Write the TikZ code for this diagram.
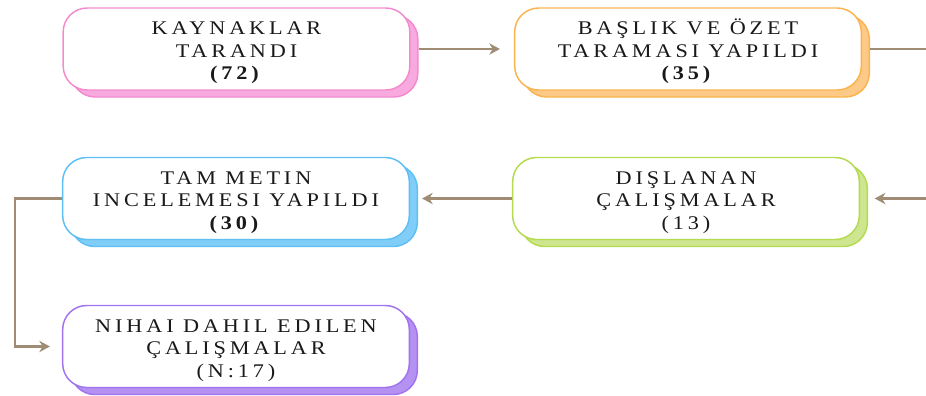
\documentclass[tikz,border=0pt]{standalone}
\usepackage{fontspec}
\newfontfamily\boxfont{Liberation Serif}[LetterSpace=20,FakeStretch=1.15]
\usepackage{tikz}
\usetikzlibrary{arrows.meta, shadows}

\definecolor{pinkline}{RGB}{244,138,205}
\definecolor{pinkfill}{RGB}{248,169,222}
\definecolor{orangeline}{RGB}{249,180,78}
\definecolor{orangefill}{RGB}{252,201,135}
\definecolor{blueline}{RGB}{94,191,245}
\definecolor{bluefill}{RGB}{128,205,247}
\definecolor{greenline}{RGB}{180,218,80}
\definecolor{greenfill}{RGB}{205,230,143}
\definecolor{purpleline}{RGB}{161,115,238}
\definecolor{purplefill}{RGB}{181,145,241}
\definecolor{linkcol}{RGB}{160,139,117}
\definecolor{textcol}{RGB}{25,25,25}
\newcommand\toplift{\rule{0pt}{15.5pt}}

\begin{document}
\begin{tikzpicture}[x=0.75pt,y=0.75pt,yscale=-1,xscale=1,
  stagebox/.style 2 args={draw=#1, fill=white, line width=1.1pt, rounded corners=18pt,
    minimum width=260pt, minimum height=61.5pt, align=center, inner sep=2pt,
    text=textcol, font=\boxfont\fontsize{14.5}{17}\selectfont,
    general shadow={shadow xshift=6pt, shadow yshift=-5.25pt, fill=#2, draw=#1, line width=1.1pt}},
  link/.style={draw=linkcol, line width=2pt, -{Stealth[length=8pt,width=8.5pt]}}]
%set diagram size to the picture
\useasboundingbox (0,0) rectangle (926,396);
\clip (0,0) rectangle (926,396);

% Boxes
\node (kaynak) [stagebox={pinkline}{pinkfill}] at (236.5,49) {\toplift KAYNAKLAR\\TARANDI\\\textbf{(72)}};
\node (baslik) [stagebox={orangeline}{orangefill}] at (688,49) {\toplift BAŞLIK VE ÖZET\\TARAMASI YAPILDI\\\textbf{(35)}};
\node (tammetin) [stagebox={blueline}{bluefill}] at (236,198.5) {\toplift TAM METIN\\INCELEMESI YAPILDI\\\textbf{(30)}};
\node (dislanan) [stagebox={greenline}{greenfill}] at (686,198.5) {\toplift DIŞLANAN\\ÇALIŞMALAR\\(13)};
\node (nihai) [stagebox={purpleline}{purplefill}] at (236,346.5) {\toplift NIHAI DAHIL EDILEN\\ÇALIŞMALAR\\(N:17)};

%Connectors
\coordinate (turn) at (945,0);
\coordinate (bend) at (15,0);
\draw [link, shorten <=6pt, shorten >=10.5pt] (kaynak) -- (baslik);
\draw [link, shorten <=6pt, shorten >=11pt] (baslik.east) -- (baslik.east -| turn) |- (dislanan.east);
\draw [link, shorten >=9pt] (dislanan.west) -- (tammetin.east);
\draw [link, shorten >=9pt] (tammetin.west) -- (tammetin.west -| bend) |- (nihai.west);

\end{tikzpicture}
\end{document}
